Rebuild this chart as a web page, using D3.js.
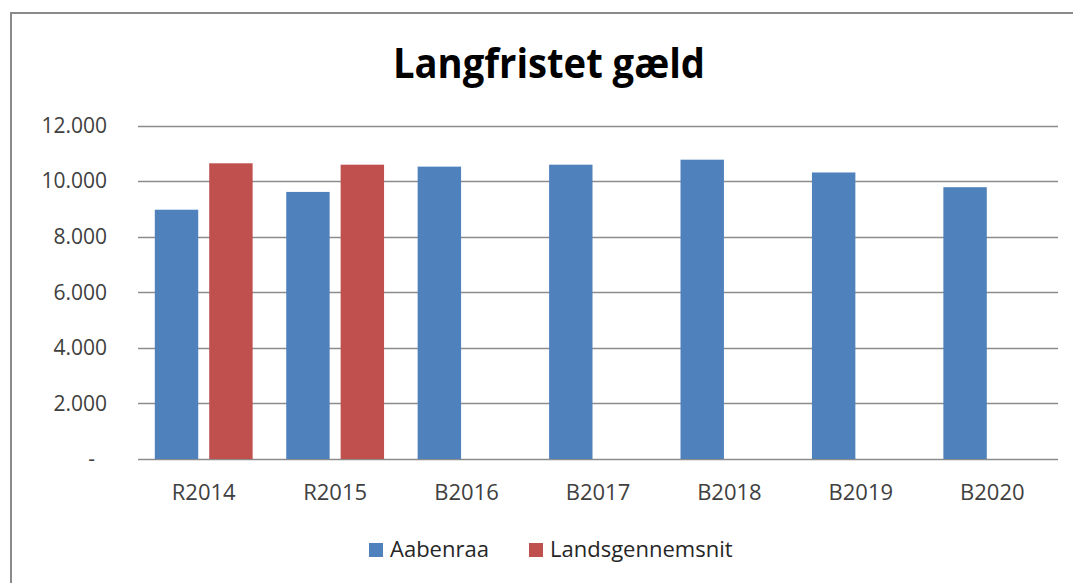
<!DOCTYPE html>
<html>
<head>
<meta charset="utf-8">
<script src="https://cdn.jsdelivr.net/npm/d3@7"></script>
<style>
  html, body { margin: 0; padding: 0; background: #fff; }
  svg { display: block; font-family: "Open Sans", "Noto Sans", sans-serif; }
</style>
</head>
<body>
<div id="chart"></div>
<script>
// Chart data
const categories = ['R2014', 'R2015', 'B2016', 'B2017', 'B2018', 'B2019', 'B2020'];
const seriesNames = ['Aabenraa', 'Landsgennemsnit'];
const aabenraa = [8970, 9610, 10520, 10590, 10770, 10310, 9780];
const landsgennemsnit = [10640, 10590, null, null, null, null, null];
const yTicks = [0, 2000, 4000, 6000, 8000, 10000, 12000];
const yTickLabels = ['-', '2.000', '4.000', '6.000', '8.000', '10.000', '12.000'];
const colors = ['#4f81bd', '#c0504d'];

const W = 1073, H = 583;
const plot = { left: 138, right: 1058, top: 125.5, bottom: 459 };

const svg = d3.select('#chart').append('svg')
  .attr('width', W)
  .attr('height', H);

// outer chart frame (right and bottom edges run off the picture)
svg.append('rect')
  .attr('x', 11).attr('y', 13)
  .attr('width', W + 20).attr('height', H + 20)
  .attr('fill', '#fff')
  .attr('stroke', '#8a8a8a')
  .attr('stroke-width', 2);

// Scales
const x0 = d3.scaleBand()
  .domain(categories)
  .range([plot.left, plot.right]);

const groupPad = 16.8;
const x1 = d3.scaleBand()
  .domain(seriesNames)
  .range([groupPad, x0.bandwidth() - groupPad])
  .paddingInner(0.202);

const y = d3.scaleLinear()
  .domain([0, 12000])
  .range([plot.bottom, plot.top]);

// Title
svg.append('text')
  .attr('x', 549).attr('y', 78)
  .attr('text-anchor', 'middle')
  .attr('font-size', 42)
  .attr('font-weight', 700)
  .attr('fill', '#000')
  .attr('textLength', 312)
  .attr('lengthAdjust', 'spacingAndGlyphs')
  .text('Langfristet gæld');

// Gridlines
svg.append('g')
  .selectAll('line')
  .data(yTicks)
  .join('line')
  .attr('x1', plot.left).attr('x2', plot.right)
  .attr('y1', d => Math.round(y(d)) + 0.5)
  .attr('y2', d => Math.round(y(d)) + 0.5)
  .attr('stroke', '#8c8c8c')
  .attr('stroke-width', 1.5);

// Y labels
svg.append('g')
  .selectAll('text')
  .data(yTicks)
  .join('text')
  .attr('x', (d, i) => d === 0 ? 95 : 107)
  .attr('y', d => y(d))
  .attr('dy', '0.35em')
  .attr('text-anchor', 'end')
  .attr('font-size', 21)
  .attr('fill', '#404040')
  .text((d, i) => yTickLabels[i]);

// Bars
const rows = categories.map((c, i) => ({
  cat: c,
  values: [aabenraa[i], landsgennemsnit[i]]
}));

svg.append('g')
  .selectAll('g')
  .data(rows)
  .join('g')
  .attr('transform', d => `translate(${x0(d.cat)},0)`)
  .selectAll('rect')
  .data(d => d.values.map((v, k) => ({ key: seriesNames[k], v, k })).filter(e => e.v != null))
  .join('rect')
  .attr('x', d => x1(d.key))
  .attr('width', x1.bandwidth())
  .attr('y', d => y(d.v))
  .attr('height', d => y(0) - y(d.v))
  .attr('fill', d => colors[d.k]);

// X labels
svg.append('g')
  .selectAll('text')
  .data(categories)
  .join('text')
  .attr('x', d => x0(d) + x0.bandwidth() / 2)
  .attr('y', 500)
  .attr('text-anchor', 'middle')
  .attr('font-size', 22)
  .attr('fill', '#404040')
  .text(d => d);

// Legend
const legendX = [369, 529];
const legend = svg.append('g')
  .selectAll('g')
  .data(seriesNames)
  .join('g')
  .attr('transform', (d, i) => `translate(${legendX[i]},543)`);

legend.append('rect')
  .attr('width', 14).attr('height', 14)
  .attr('fill', (d, i) => colors[i]);

legend.append('text')
  .attr('x', 21).attr('y', 14)
  .attr('font-size', 22)
  .attr('fill', '#262626')
  .text(d => d);
</script>
</body>
</html>
